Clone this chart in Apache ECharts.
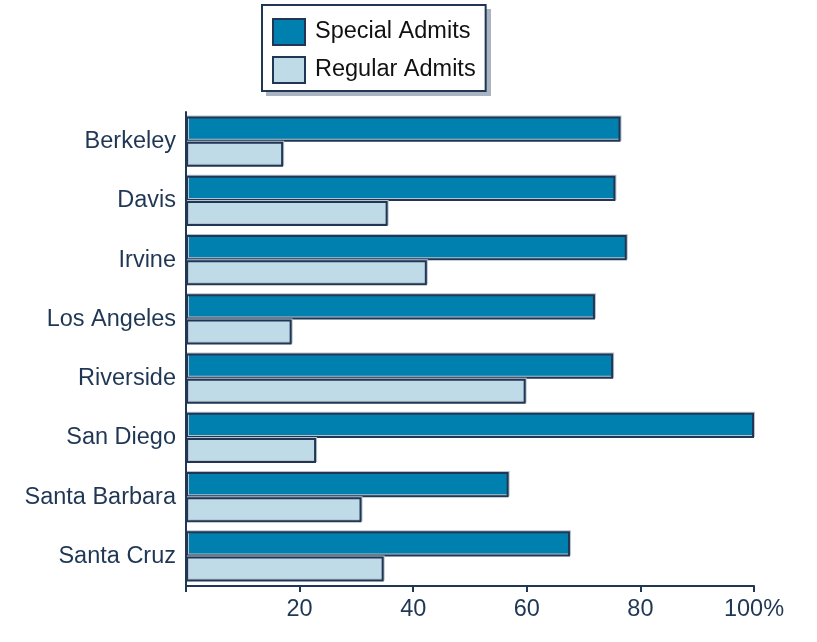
<!DOCTYPE html>
<html>
<head>
<meta charset="utf-8">
<script src="https://cdn.jsdelivr.net/npm/echarts@6/dist/echarts.min.js"></script>
<style>
html,body{margin:0;padding:0;background:#fff;}
#main{width:817px;height:642px;}
</style>
</head>
<body>
<div id="main"></div>
<script>
var campuses = ['Berkeley','Davis','Irvine','Los Angeles','Riverside','San Diego','Santa Barbara','Santa Cruz'];
var specialAdmits = [76.5, 75.6, 77.6, 72, 75.2, 100, 56.8, 67.6];
var regularAdmits = [17.1, 35.5, 42.4, 18.6, 59.8, 22.9, 30.9, 34.8];
var xTicks = [0, 20, 40, 60, 80, 100];

var ink = '#1f3754';
var fs = 23.5;
var myChart = echarts.init(document.getElementById('main'));

// 柱子的公共样式
function barStyle(color){
    return {
        color: color,
        borderColor: ink,
        borderWidth: 2,
        shadowColor: '#b8c0cc',
        shadowOffsetX: 1,
        shadowOffsetY: -1,
        shadowBlur: 0
    };
}

var option = {
    animation: false,
    textStyle: {fontFamily: 'Liberation Sans, Arial, sans-serif'},
    // 图例背后的灰色投影
    graphic: [{
        type: 'rect',
        z: 0,
        shape: {x: 266, y: 9, width: 225, height: 87},
        style: {fill: '#a9b3c2'}
    }],
    legend: {
        orient: 'vertical',
        left: 262,
        top: 5,
        z: 10,
        padding: [13, 10, 7, 10],
        itemWidth: 32,
        itemHeight: 26,
        itemGap: 10,
        icon: 'rect',
        backgroundColor: '#fff',
        borderColor: ink,
        borderWidth: 2,
        textStyle: {color: '#111', fontSize: fs, lineHeight: 26, padding: [0, 0, 0, 5]},
        data: ['Special Admits', 'Regular Admits']
    },
    grid: {left: 186, right: 63, top: 112, bottom: 56},
    xAxis: {
        type: 'value',
        min: xTicks[0],
        max: xTicks[xTicks.length - 1],
        interval: 20,
        splitLine: {show: false},
        axisLine: {show: true, lineStyle: {color: ink, width: 2}},
        axisTick: {show: true, length: 6, lineStyle: {color: ink, width: 2}},
        axisLabel: {
            color: ink,
            fontSize: fs,
            margin: 12,
            formatter: function(v){
                if(v === 0) return '';
                return v === 100 ? '100%' : String(v);
            }
        }
    },
    yAxis: {
        type: 'category',
        inverse: true,
        data: campuses,
        axisLine: {show: true, lineStyle: {color: ink, width: 2}},
        axisTick: {show: false},
        axisLabel: {color: ink, fontSize: fs, margin: 10}
    },
    series: [
        {
            name: 'Special Admits',
            type: 'bar',
            data: specialAdmits,
            barGap: '0%',
            barCategoryGap: '15%',
            itemStyle: barStyle('#0080ae')
        },
        {
            name: 'Regular Admits',
            type: 'bar',
            data: regularAdmits,
            itemStyle: barStyle('#bfdbe8')
        }
    ]
};

myChart.setOption(option);
</script>
</body>
</html>
